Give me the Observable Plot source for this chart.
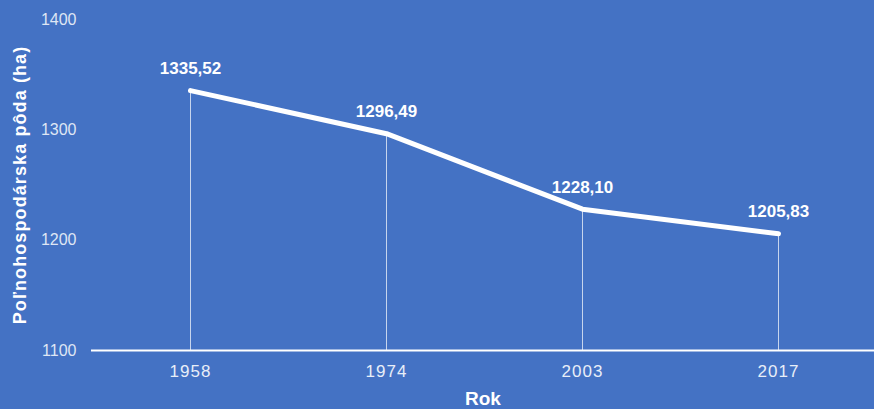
<!DOCTYPE html>
<html><head><meta charset="utf-8">
<script src="https://cdn.jsdelivr.net/npm/d3@7"></script>
<script src="https://cdn.jsdelivr.net/npm/@observablehq/plot@0.6"></script>
<style>
html,body{margin:0;padding:0;background:#4472C4;}
#chart svg{display:block;}
.xt text{letter-spacing:1px;font-family:"Liberation Sans Narrow","Arial Narrow",sans-serif;}
.yt text{letter-spacing:1.1px;}
.rk text{font-family:"Liberation Sans Narrow","Arial Narrow",sans-serif;}
</style></head>
<body><div id="chart"></div>
<script>
const years = ["1958", "1974", "2003", "2017"];
const values = [1335.52, 1296.49, 1228.10, 1205.83];
const valueLabels = ["1335,52", "1296,49", "1228,10", "1205,83"];
const yTicks = [1100, 1200, 1300, 1400];
const yTitle = "Poľnohospodárska pôda (ha)";
const xTitle = "Rok";

const data = years.map((y, i) => ({year: y, value: values[i], label: valueLabels[i]}));

const chart = Plot.plot({
  width: 874,
  height: 409,
  marginLeft: 91,
  marginRight: 0,
  marginTop: 19,
  marginBottom: 59,
  style: {background: "#4472C4", color: "white", fontFamily: "Liberation Sans, Arial, sans-serif"},
  x: {type: "point", domain: years, range: [189, 779], padding: 0},
  y: {domain: [1100, 1400]},
  marks: [
    Plot.axisY({ticks: yTicks, tickFormat: d => String(d), tickSize: 0, tickPadding: 15, label: null, fontSize: 16, fill: "#dfe6f4"}),
    Plot.axisX({tickSize: 0, tickPadding: 14, label: null, fontSize: 17, fill: "#e8eef8", className: "xt"}),
    Plot.ruleX(data, {x: "year", y1: 1100, y2: "value", stroke: "white", strokeOpacity: 0.7, strokeWidth: 1}),
    Plot.ruleY([1100], {stroke: "white", strokeWidth: 2}),
    Plot.line(data, {x: "year", y: "value", stroke: "white", strokeWidth: 5, strokeLinecap: "round", strokeLinejoin: "round"}),
    Plot.text(data, {x: "year", y: "value", text: "label", dy: -22, fill: "white", fontWeight: "bold", fontSize: 17}),
    Plot.text([yTitle], {frameAnchor: "left", text: d => d, rotate: -90, dx: -71, textAnchor: "middle", fill: "white", fontWeight: "bold", fontSize: 18, className: "yt"}),
    Plot.text([xTitle], {frameAnchor: "bottom", lineAnchor: "middle", text: d => d, dy: 48, fill: "white", fontWeight: "bold", fontSize: 19, className: "rk"})
  ]
});
document.getElementById("chart").append(chart);
</script>
</body></html>
